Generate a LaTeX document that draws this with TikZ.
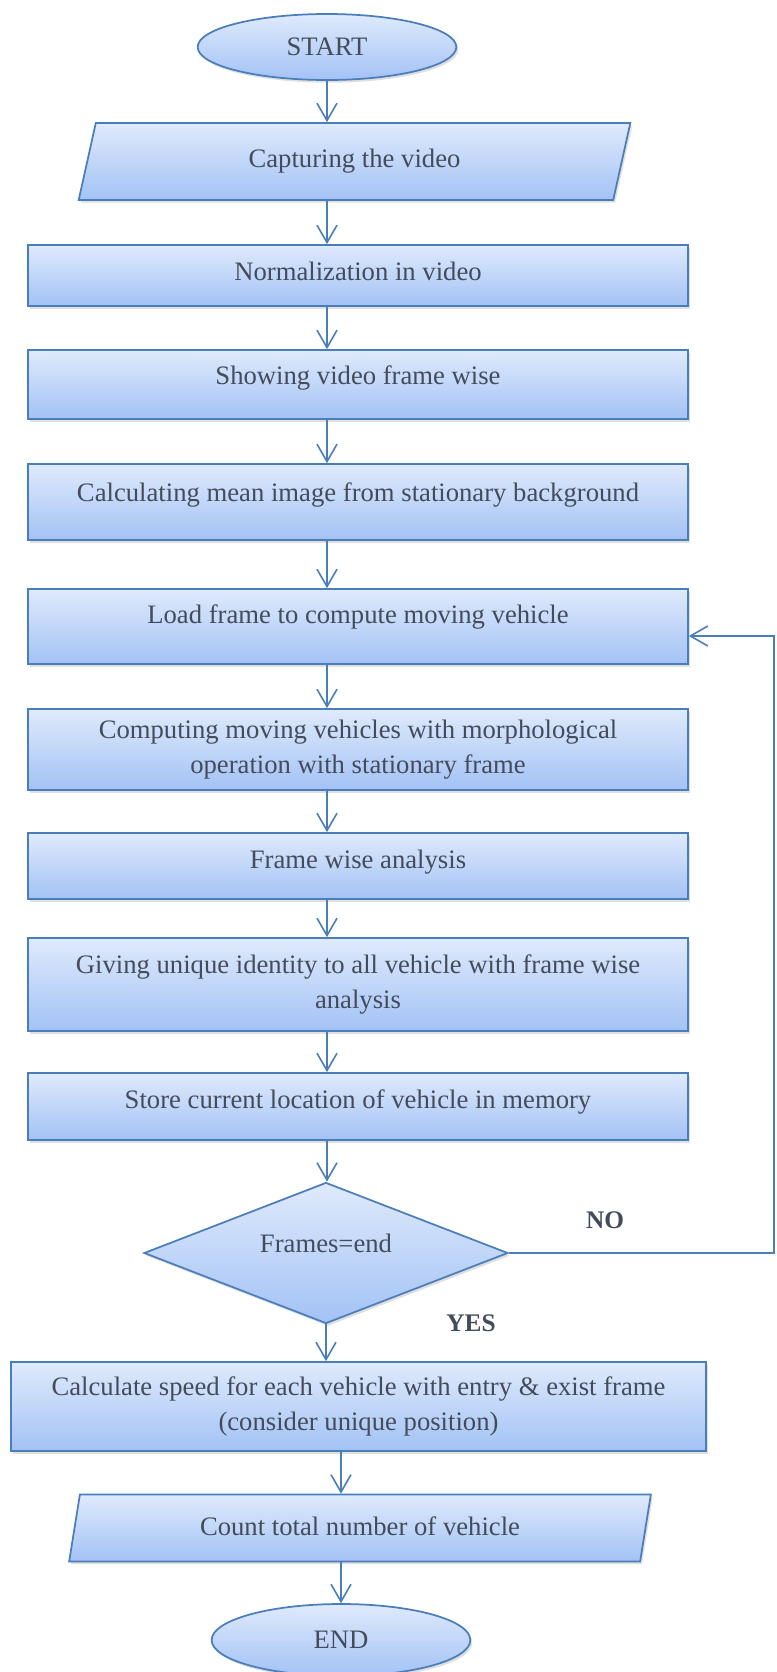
\documentclass[tikz,border=0pt]{standalone}
\usepackage{fontspec}
\setmainfont{Liberation Serif}
\usepackage{tikz}
\usetikzlibrary{shapes.geometric,arrows.meta,shadows}
\definecolor{boxedge}{HTML}{4A7EBB}
\definecolor{boxtop}{HTML}{DFEAFC}
\definecolor{boxbottom}{HTML}{A3C2F5}
\definecolor{boxtext}{HTML}{434C5B}

\begin{document}
\begin{tikzpicture}[x=0.75pt, y=-0.75pt,
    every node/.style={font=\fontsize{20}{26}\selectfont, text=boxtext},
    flowbox/.style={draw=boxedge, line width=1.3pt, top color=boxtop, bottom color=boxbottom,
        drop shadow={shadow xshift=1.5pt, shadow yshift=-2pt, opacity=0.25}, inner sep=0pt, align=center},
    procbox/.style={flowbox, rectangle, minimum width=495pt},
    iobox/.style={flowbox, trapezium, trapezium left angle=75, trapezium right angle=105, trapezium stretches=true},
    termbox/.style={flowbox, ellipse, minimum width=194pt},
    decbox/.style={flowbox, diamond, aspect=2.6, minimum width=273pt, minimum height=105.75pt},
    lift/.style={text height=14pt, text depth=#1},
    flowarrow/.style={draw=boxedge, line width=1.2pt, -{Straight Barb[length=13pt, width=15pt]}},
    answer/.style={font=\fontsize{19}{22}\selectfont\bfseries}]
    \useasboundingbox (0,0) rectangle (776,1672);

    % Terminals and steps
    \node[termbox, minimum height=49.5pt] (start) at (327,47) {START};
    \node[iobox, lift=5.6pt, minimum width=414.75pt, minimum height=57.75pt] (capture) at (354.5,161.5) {Capturing the video};
    \node[procbox, lift=7.2pt, minimum height=45.75pt] (norm) at (358,275.5) {Normalization in video};
    \node[procbox, lift=13.6pt, minimum height=51.75pt] (show) at (358,384.5) {Showing video frame wise};
    \node[procbox, lift=15.2pt, minimum height=57pt] (mean) at (358,502) {Calculating mean image from stationary background};
    \node[procbox, lift=18.4pt, minimum height=56.25pt] (load) at (358,626.5) {Load frame to compute moving vehicle};
    \node[procbox, minimum height=60.75pt] (morph) at (358,749.5) {Computing moving vehicles with morphological\\operation with stationary frame};
    \node[procbox, lift=10.4pt, minimum height=49.5pt] (framewise) at (358,866) {Frame wise analysis};
    \node[procbox, minimum height=69.75pt] (identity) at (358,984.5) {Giving unique identity to all vehicle with frame wise\\analysis};
    \node[procbox, lift=10.4pt, minimum height=50.25pt] (store) at (358,1106.5) {Store current location of vehicle in memory};

    % Decision
    \node[decbox, lift=15.2pt] (frames) at (326,1253) {Frames=end};
    \node[answer] (nolbl) at (605,1220) {NO};
    \node[answer] (yeslbl) at (471,1323) {YES};

    \node[procbox, minimum width=521.25pt, minimum height=66.75pt] (speed) at (358.5,1406.5) {Calculate speed for each vehicle with entry \& exist frame\\(consider unique position)};
    \node[iobox, lift=3.2pt, minimum width=438pt, minimum height=50.25pt] (count) at (360,1528) {Count total number of vehicle};
    \node[termbox, minimum height=54pt] (finish) at (341,1640) {END};

    % Main flow
    \draw[flowarrow] (start.south) -- (start.south |- capture.north);
    \foreach \a/\b in {capture/norm, norm/show, show/mean, mean/load, load/morph,
                       morph/framewise, framewise/identity, identity/store, store/frames} {
        \draw[flowarrow] (\a.south -| start) -- (\b.north -| start);
    }
    \draw[flowarrow] (frames.south) -- (speed.north -| frames.south);
    \draw[flowarrow] (speed.south -| finish) -- (count.north -| finish);
    \draw[flowarrow] (count.south -| finish) -- (finish.north);

    % Loop back (NO)
    \coordinate (loopbend) at (774,636);
    \draw[flowarrow] (frames.east) -| (loopbend) -- (load.east |- loopbend);
\end{tikzpicture}
\end{document}
